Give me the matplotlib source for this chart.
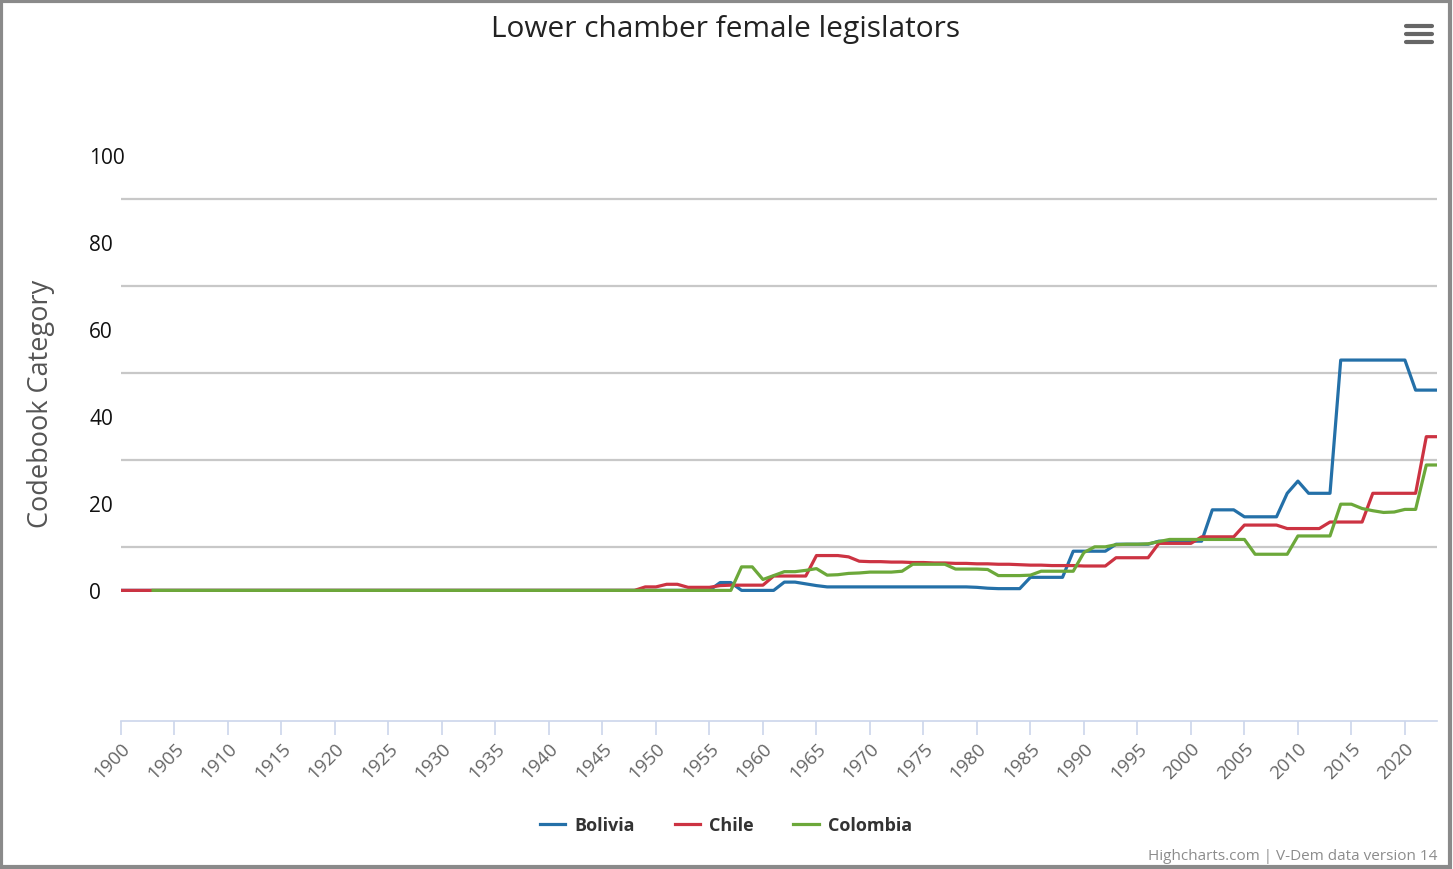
import numpy as np
import matplotlib
matplotlib.use('Agg')
import matplotlib.pyplot as plt
from matplotlib.lines import Line2D
from matplotlib.patches import Rectangle

plt.rcParams['font.family'] = ['Open Sans', 'DejaVu Sans']

# ---------- data ----------
years_bol = list(range(1900, 2024))
bolivia = ([0.0]*56 +                      # 1900-1955
           [1.8, 1.8, 0.0, 0.0, 0.0, 0.0,  # 1956-1961
            1.9, 1.9, 1.5, 1.1] +          # 1962-1965
           [0.8]*14 +                      # 1966-1979
           [0.7, 0.5, 0.4, 0.4, 0.4,       # 1980-1984
            3.0, 3.0, 3.0, 3.0,            # 1985-1988
            9.0, 9.0, 9.0, 9.0,            # 1989-1992
            10.6, 10.6, 10.6, 10.6,        # 1993-1996
            11.3, 11.3, 11.3, 11.3, 11.3,  # 1997-2001
            18.5, 18.5, 18.5,              # 2002-2004
            16.9, 16.9, 16.9, 16.9,        # 2005-2008
            22.3, 25.1, 22.3, 22.3, 22.3,  # 2009-2013
            52.9, 52.9, 52.9, 52.9, 52.9, 52.9, 52.9,  # 2014-2020
            46.0, 46.0, 46.0])             # 2021-2023

years_chl = list(range(1900, 2024))
chile = ([0.0]*49 +                                      # 1900-1948
         [0.8, 0.8, 1.4, 1.4, 0.7, 0.7, 0.7, 1.1, 1.2,   # 1949-1957
          1.2, 1.2, 1.2, 3.3, 3.3, 3.3, 3.3,             # 1958-1964
          8.0, 8.0, 8.0, 7.7, 6.7,                       # 1965-1969
          6.6, 6.6, 6.5, 6.5, 6.4, 6.4, 6.3, 6.3, 6.2, 6.2,  # 1970-1979
          6.1, 6.1, 6.0, 6.0, 5.9, 5.8, 5.8, 5.7, 5.7, 5.7,  # 1980-1989
          5.6, 5.6, 5.6,                                 # 1990-1992
          7.5, 7.5, 7.5, 7.5,                            # 1993-1996
          10.8, 10.8, 10.8, 10.8,                        # 1997-2000
          12.3, 12.3, 12.3, 12.3,                        # 2001-2004
          15.0, 15.0, 15.0, 15.0,                        # 2005-2008
          14.2, 14.2, 14.2, 14.2,                        # 2009-2012
          15.7, 15.7, 15.7, 15.7,                        # 2013-2016
          22.3, 22.3, 22.3, 22.3, 22.3,                  # 2017-2021
          35.3, 35.3])                                   # 2022-2023

years_col = list(range(1903, 2024))
colombia = ([0.0]*55 +                                   # 1903-1957
            [5.4, 5.4, 2.5, 3.4, 4.3, 4.3, 4.6, 5.0,     # 1958-1965
             3.5, 3.6, 3.9, 4.0, 4.2, 4.2, 4.2, 4.4,     # 1966-1973
             6.0, 6.0, 6.0, 6.0, 4.9, 4.9, 4.9, 4.8,     # 1974-1981
             3.4, 3.4, 3.4, 3.5, 4.4, 4.4, 4.4, 4.4,     # 1982-1989
             8.7, 10.0, 10.0, 10.5, 10.6, 10.6, 10.7, 11.2,  # 1990-1997
             11.7, 11.7, 11.7, 11.7, 11.7, 11.7, 11.7, 11.7, # 1998-2005
             8.3, 8.3, 8.3, 8.3,                         # 2006-2009
             12.5, 12.5, 12.5, 12.5,                     # 2010-2013
             19.8, 19.8, 18.8, 18.3, 17.9, 18.0, 18.6, 18.6,  # 2014-2021
             28.8, 28.8])                                # 2022-2023

series = [('Bolivia', years_bol, bolivia, '#2470a8'),
          ('Chile', years_chl, chile, '#cc3342'),
          ('Colombia', years_col, colombia, '#6ca83a')]

xticks = list(range(1900, 2021, 5))
yticks = [0, 20, 40, 60, 80, 100]
grid_levels = [10, 30, 50, 70, 90]

# ---------- figure ----------
W, H = 1453, 870
fig = plt.figure(figsize=(W/100, H/100), dpi=100)
ax = fig.add_axes([121/W, 1-722/H, (1437-121)/W, (722-156)/H])

for name, xs, ys, c in series:
    ax.plot(xs, ys, color=c, lw=2.3, label=name, solid_joinstyle='round')

for g in grid_levels:
    ax.axhline(g, color='#c8c8c8', lw=1.6, zorder=0)

ax.set_xlim(1900, 2023)
ax.set_ylim(-30, 100)

for s in ['top', 'right', 'left']:
    ax.spines[s].set_visible(False)
ax.spines['bottom'].set_color('#ccd6eb')
ax.spines['bottom'].set_linewidth(1.2)

ax.set_xticks(xticks)
ax.set_xticklabels([str(x) for x in xticks], rotation=45, ha='right',
                   rotation_mode='anchor', fontsize=13.5, color='#666666')
ax.tick_params(axis='x', length=10, width=1.2, color='#ccd6eb', pad=3)

ax.set_yticks(yticks)
ax.set_yticklabels([str(y) for y in yticks], fontsize=15, color='#111111', ha='left')
ax.tick_params(axis='y', length=0, pad=23)

ax.set_ylabel('Codebook Category', fontsize=19.5, color='#555555')
ax.yaxis.set_label_coords(-0.050, 0.562)

fig.text(726/W, 1-30/H, 'Lower chamber female legislators', ha='center', va='center',
         fontsize=21.5, color='#222222')

leg = fig.legend(loc='center', bbox_to_anchor=(726/W, 1-826/H), ncol=3, frameon=False,
                 handlelength=1.4, handletextpad=0.5, columnspacing=2.2,
                 prop={'size': 13, 'weight': 'bold'})
for t in leg.get_texts():
    t.set_color('#333333')

fig.text(1437/W, 1-857/H, 'Highcharts.com | V-Dem data version 14', ha='right', va='center',
         fontsize=11, color='#8c8c8c')

# menu icon
for yy in [27, 35, 43]:
    fig.add_artist(Line2D([1406/W, 1432/W], [1-yy/H, 1-yy/H], color='#666666', lw=3,
                          solid_capstyle='round'))

# outer frame
fig.add_artist(Rectangle((0.001, 0.002), 0.997, 0.996, transform=fig.transFigure,
                         fill=False, edgecolor='#8a8a8a', lw=3))

fig.savefig('out.png', dpi=100)
